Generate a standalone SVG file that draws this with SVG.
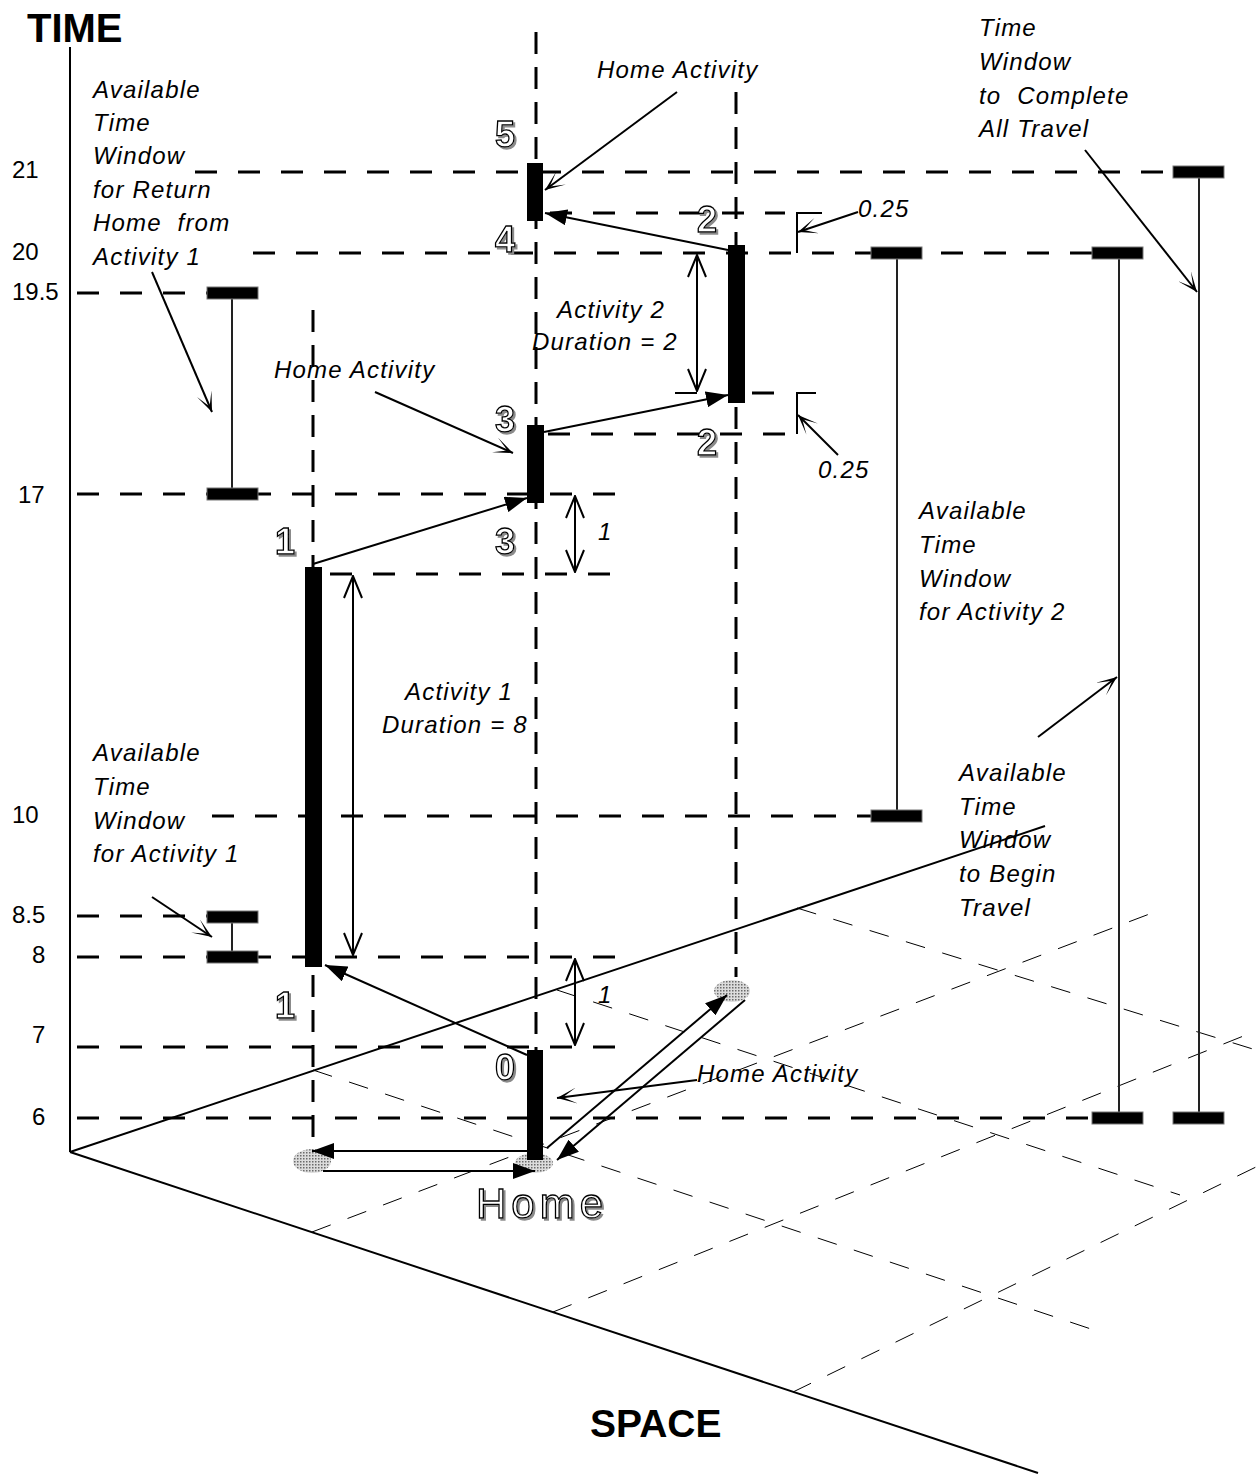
<svg xmlns="http://www.w3.org/2000/svg" width="1256" height="1475" viewBox="0 0 1256 1475">
<defs>
<style>
.hd{stroke:#000;stroke-width:3;stroke-dasharray:22 21;fill:none}
.vd{stroke:#000;stroke-width:3;stroke-dasharray:22 13;fill:none}
.gd{stroke:#000;stroke-width:1;stroke-dasharray:20 18;fill:none}
.ax{stroke:#000;stroke-width:2;fill:none}
.ln{stroke:#000;stroke-width:2;fill:none}
.wl{stroke:#222;stroke-width:2;fill:none}
.fa{marker-end:url(#fa)}
.oa{marker-end:url(#oa)}
.da{marker-start:url(#va);marker-end:url(#va)}
.t{font-family:"Liberation Sans",Arial,sans-serif;font-style:italic;font-size:24px;letter-spacing:1.2px;fill:#000;white-space:pre}
.n{font-family:"Liberation Sans",Arial,sans-serif;font-size:24px;fill:#000}
.b{font-family:"Liberation Sans",Arial,sans-serif;font-weight:bold;font-size:40px;fill:#000}
.o{font-family:"Liberation Sans",Arial,sans-serif;font-weight:bold;font-size:36px;fill:#fff;stroke:#000;stroke-width:1.3;filter:url(#sh)}
.home{font-family:"Liberation Sans",Arial,sans-serif;font-size:42px;letter-spacing:5px;fill:#fff;stroke:#000;stroke-width:1.3;filter:url(#sh)}
.bar{fill:#000}
.cap{fill:#000;stroke:#777;stroke-width:1}
</style>
<marker id="fa" viewBox="0 0 22 16" refX="22" refY="8" markerWidth="22" markerHeight="16" markerUnits="userSpaceOnUse" orient="auto">
<path d="M0,0 L22,8 L0,16 z" fill="#000"/>
</marker>
<marker id="oa" viewBox="0 0 20 16" refX="20" refY="8" markerWidth="20" markerHeight="16" markerUnits="userSpaceOnUse" orient="auto">
<path d="M0,0 L20,8 L0,16 L14,8 z" fill="#000"/>
</marker>
<marker id="va" viewBox="0 0 24 20" refX="23" refY="10" markerWidth="24" markerHeight="20" markerUnits="userSpaceOnUse" orient="auto-start-reverse">
<path d="M1,1 L23,10 L1,19" fill="none" stroke="#000" stroke-width="2"/>
</marker>
<filter id="sh" x="-20%" y="-20%" width="150%" height="150%">
<feOffset in="SourceAlpha" dx="2" dy="2" result="o"/>
<feFlood flood-color="#8a8a8a"/>
<feComposite in2="o" operator="in" result="s"/>
<feMerge><feMergeNode in="s"/><feMergeNode in="SourceGraphic"/></feMerge>
</filter>
<pattern id="dots" width="3" height="3" patternUnits="userSpaceOnUse">
<rect width="3" height="3" fill="#dcdcdc"/>
<rect width="1.5" height="1.5" fill="#6a6a6a"/>
</pattern>
</defs>
<rect width="1256" height="1475" fill="#fff"/>

<g id="ground-grid">
<line class="gd" x1="313" y1="1070" x2="1100" y2="1332"/>
<line class="gd" x1="557" y1="990" x2="1180" y2="1195"/>
<line class="gd" x1="797" y1="908" x2="1256" y2="1050"/>
<line class="gd" x1="312" y1="1232" x2="1160" y2="910"/>
<line class="gd" x1="553" y1="1312" x2="1256" y2="1031"/>
<line class="gd" x1="793" y1="1392" x2="1256" y2="1167"/>
</g>

<g id="axes">
<line class="ax" x1="70" y1="47" x2="70" y2="1152"/>
<line class="ax" x1="70" y1="1152" x2="1038" y2="1473"/>
<line class="ax" x1="70" y1="1152" x2="1045" y2="826"/>
<text class="b" x="27" y="42">TIME</text>
<text class="b" x="590" y="1437" style="font-size:39px">SPACE</text>
<text class="n" x="12" y="178">21</text>
<text class="n" x="12" y="260">20</text>
<text class="n" x="12" y="300">19.5</text>
<text class="n" x="18" y="503">17</text>
<text class="n" x="12" y="823">10</text>
<text class="n" x="12" y="923">8.5</text>
<text class="n" x="32" y="963">8</text>
<text class="n" x="32" y="1043">7</text>
<text class="n" x="32" y="1125">6</text>
</g>

<g id="time-levels">
<line class="hd" x1="195" y1="172" x2="1173" y2="172"/>
<line class="hd" x1="550" y1="213" x2="785" y2="213"/>
<line class="hd" x1="253" y1="253" x2="1092" y2="253"/>
<line class="hd" x1="77" y1="293" x2="207" y2="293"/>
<line class="hd" x1="752" y1="393" x2="790" y2="393"/>
<line class="hd" x1="548" y1="434" x2="797" y2="434"/>
<line class="hd" x1="77" y1="494" x2="615" y2="494"/>
<line class="hd" x1="330" y1="574" x2="615" y2="574"/>
<line class="hd" x1="212" y1="816" x2="871" y2="816"/>
<line class="hd" x1="77" y1="916" x2="207" y2="916"/>
<line class="hd" x1="77" y1="957" x2="615" y2="957"/>
<line class="hd" x1="77" y1="1047" x2="615" y2="1047"/>
<line class="hd" x1="77" y1="1118" x2="1092" y2="1118"/>
<line class="vd" x1="313" y1="310" x2="313" y2="1150"/>
<line class="vd" x1="536" y1="32" x2="536" y2="1150"/>
<line class="vd" x1="736" y1="92" x2="736" y2="977"/>
</g>

<g id="locations">
<ellipse cx="312" cy="1161" rx="19" ry="12" fill="url(#dots)"/>
<ellipse cx="534" cy="1163" rx="19" ry="10" fill="url(#dots)"/>
<ellipse cx="732" cy="991" rx="18" ry="11" fill="url(#dots)"/>
<text class="home" x="476" y="1218">Home</text>
</g>

<g id="home-activity-0">
<rect class="bar" x="527" y="1050" width="16" height="110"/>
<text class="o" x="495" y="1080">0</text>
</g>
<g id="activity-1">
<rect class="bar" x="305" y="567" width="17" height="400"/>
<text class="o" x="275" y="554">1</text>
<text class="o" x="275" y="1018">1</text>
</g>
<g id="home-activity-3">
<rect class="bar" x="527" y="425" width="17" height="78"/>
<text class="o" x="495" y="432">3</text>
<text class="o" x="495" y="554">3</text>
</g>
<g id="activity-2">
<rect class="bar" x="728" y="245" width="17" height="158"/>
<text class="o" x="697" y="232">2</text>
<text class="o" x="697" y="455">2</text>
</g>
<g id="home-activity-5">
<rect class="bar" x="527" y="163" width="16" height="58"/>
<text class="o" x="495" y="147">5</text>
<text class="o" x="495" y="252">4</text>
</g>

<g id="window-return-home">
<line class="wl" x1="232" y1="293" x2="232" y2="494"/>
<rect class="cap" x="207" y="287" width="51" height="12"/>
<rect class="cap" x="207" y="488" width="51" height="12"/>
<text class="t"><tspan x="93" y="98">Available</tspan><tspan x="93" y="131">Time</tspan><tspan x="93" y="164">Window</tspan><tspan x="93" y="198">for Return</tspan><tspan x="93" y="231">Home  from</tspan><tspan x="93" y="265">Activity 1</tspan></text>
</g>
<g id="window-activity-1">
<line class="wl" x1="232" y1="916" x2="232" y2="957"/>
<rect class="cap" x="207" y="911" width="51" height="12"/>
<rect class="cap" x="207" y="951" width="51" height="12"/>
<text class="t"><tspan x="93" y="761">Available</tspan><tspan x="93" y="795">Time</tspan><tspan x="93" y="829">Window</tspan><tspan x="93" y="862">for Activity 1</tspan></text>
</g>
<g id="window-activity-2">
<line class="wl" x1="897" y1="253" x2="897" y2="816"/>
<rect class="cap" x="871" y="247" width="51" height="12"/>
<rect class="cap" x="871" y="810" width="51" height="12"/>
<text class="t"><tspan x="919" y="519">Available</tspan><tspan x="919" y="553">Time</tspan><tspan x="919" y="587">Window</tspan><tspan x="919" y="620">for Activity 2</tspan></text>
</g>
<g id="window-begin-travel">
<line class="wl" x1="1119" y1="253" x2="1119" y2="1118"/>
<rect class="cap" x="1092" y="247" width="51" height="12"/>
<rect class="cap" x="1092" y="1112" width="51" height="12"/>
<text class="t"><tspan x="959" y="781">Available</tspan><tspan x="959" y="815">Time</tspan><tspan x="959" y="848">Window</tspan><tspan x="959" y="882">to Begin</tspan><tspan x="959" y="916">Travel</tspan></text>
</g>
<g id="window-complete-travel">
<line class="wl" x1="1199" y1="172" x2="1199" y2="1118"/>
<rect class="cap" x="1173" y="166" width="51" height="12"/>
<rect class="cap" x="1173" y="1112" width="51" height="12"/>
<text class="t"><tspan x="979" y="36">Time</tspan><tspan x="979" y="70">Window</tspan><tspan x="979" y="104">to  Complete</tspan><tspan x="979" y="137">All Travel</tspan></text>
</g>

<g id="labels">
<text class="t" x="597" y="78">Home Activity</text>
<text class="t" x="274" y="378">Home Activity</text>
<text class="t" x="697" y="1082">Home Activity</text>
<text class="t" x="557" y="318">Activity 2</text>
<text class="t" x="532" y="350">Duration = 2</text>
<text class="t" x="405" y="700">Activity 1</text>
<text class="t" x="382" y="733">Duration = 8</text>
<text class="t" x="858" y="217">0.25</text>
<text class="t" x="818" y="478">0.25</text>
<text class="t" x="598" y="540">1</text>
<text class="t" x="598" y="1003">1</text>
</g>

<g id="connectors">
<line class="ln fa" x1="728" y1="250" x2="545" y2="213"/>
<line class="ln fa" x1="544" y1="432" x2="728" y2="395"/>
<line class="ln fa" x1="313" y1="564" x2="527" y2="498"/>
<line class="ln fa" x1="527" y1="1055" x2="325" y2="965"/>
<line class="ln fa" x1="527" y1="1151" x2="312" y2="1151"/>
<line class="ln fa" x1="323" y1="1171" x2="535" y2="1171"/>
<line class="ln fa" x1="547" y1="1148" x2="727" y2="995"/>
<line class="ln fa" x1="745" y1="1000" x2="557" y2="1160"/>
<line class="ln oa" x1="677" y1="92" x2="545" y2="190"/>
<line class="ln oa" x1="375" y1="392" x2="513" y2="453"/>
<line class="ln oa" x1="697" y1="1080" x2="557" y2="1098"/>
<line class="ln oa" x1="152" y1="272" x2="212" y2="412"/>
<line class="ln oa" x1="152" y1="897" x2="212" y2="937"/>
<line class="ln oa" x1="858" y1="212" x2="798" y2="232"/>
<line class="ln oa" x1="838" y1="455" x2="798" y2="415"/>
<line class="ln oa" x1="1085" y1="150" x2="1197" y2="292"/>
<line class="ln oa" x1="1038" y1="737" x2="1117" y2="677"/>
<line class="ln da" x1="697" y1="255" x2="697" y2="391"/>
<line class="ln da" x1="353" y1="576" x2="353" y2="955"/>
<line class="ln da" x1="575" y1="496" x2="575" y2="572"/>
<line class="ln da" x1="575" y1="959" x2="575" y2="1045"/>
<line class="ln" x1="675" y1="393" x2="697" y2="393"/>
<path class="ln" d="M822,213 H797 V253"/>
<path class="ln" d="M816,393 H797 V434"/>
</g>
</svg>
